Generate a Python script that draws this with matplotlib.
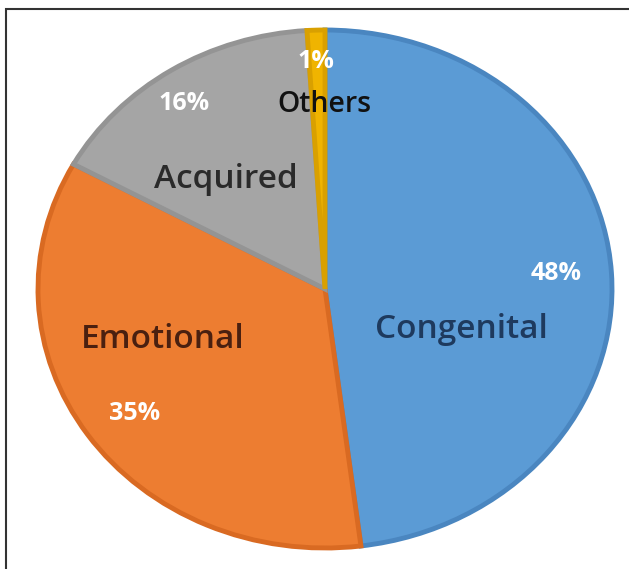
import matplotlib.pyplot as plt
from matplotlib.patches import Rectangle

labels = ["Congenital", "Emotional", "Acquired", "Others"]
values = [48, 35, 16, 1]
colors = ["#5B9BD5", "#ED7D31", "#A5A5A5", "#F0B400"]
edges = ["#4A86C0", "#D96A22", "#949494", "#D9A000"]
label_colors = ["#1E3A5E", "#4A2010", "#2A2A2A", "#111111"]
label_sizes = [24, 24, 24, 20.5]

# pixel positions of text (label, percent)
label_pos = [(461, 330), (163, 340), (226, 179), (324, 104)]
pct_pos = [(556, 273), (135, 413), (184, 104), (316, 62)]

W, H = 629, 569
fig = plt.figure(figsize=(W / 100, H / 100), dpi=100)
ax = fig.add_axes([0, 0, 1, 1])

wedges, _ = ax.pie(values, colors=colors, startangle=90, counterclock=False,
                   wedgeprops=dict(linewidth=3.5))
for w, e in zip(wedges, edges):
    w.set_edgecolor(e)

# ellipse: center (325, 289) px, radii 287 x 259 px
cx, cy, rx, ry = 325, 289, 287, 259
ax.set_aspect("auto")
ax.set_xlim(-cx / rx, (W - cx) / rx)
ax.set_ylim(-(H - cy) / ry, cy / ry)
ax.axis("off")

for lab, v, c, s, (lx, ly), (px, py) in zip(labels, values, label_colors, label_sizes,
                                            label_pos, pct_pos):
    fig.text(lx / W, 1 - ly / H, lab, ha="center", va="center",
             fontsize=s, color=c, family="Open Sans", fontweight="semibold")
    fig.text(px / W, 1 - py / H, f"{v}%", ha="center", va="center",
             fontsize=18, color="white", fontweight="bold", family="Open Sans")

# frame around the picture
fig.patches.append(Rectangle((6 / W, -0.1), 1.1, 1.1 - 9 / H, transform=fig.transFigure,
                             fill=False, edgecolor="#333333", linewidth=1.5))

fig.savefig("out.png", dpi=100)
